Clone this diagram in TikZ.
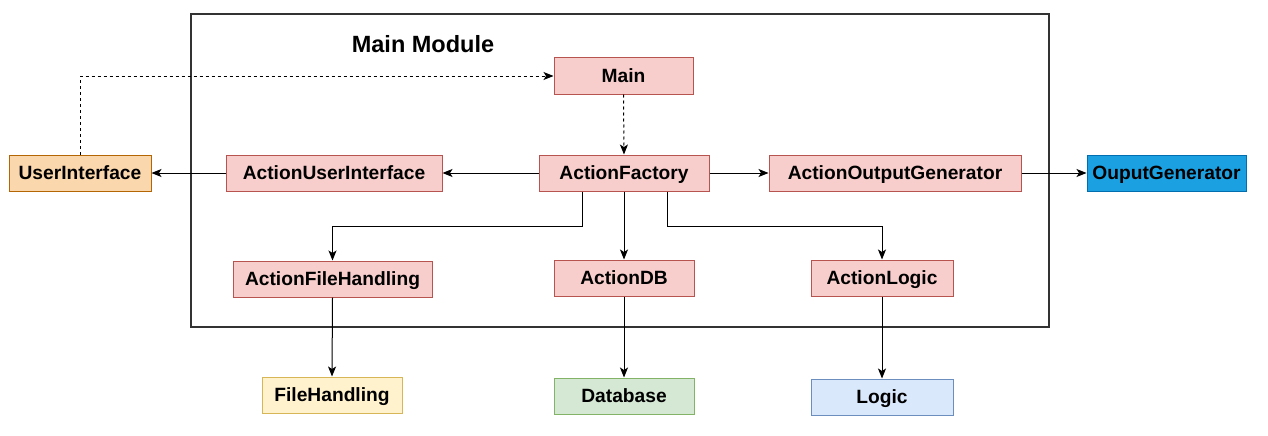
\documentclass[tikz,border=0pt]{standalone}
\usepackage{fontspec}
\setmainfont{Liberation Sans}
\usetikzlibrary{arrows.meta}
\definecolor{redF}{HTML}{F8CECC}\definecolor{redS}{HTML}{B85450}
\definecolor{orF}{HTML}{FAD7AC}\definecolor{orS}{HTML}{B46504}
\definecolor{blF}{HTML}{1BA1E2}\definecolor{blS}{HTML}{006EAF}
\definecolor{yeF}{HTML}{FFF2CC}\definecolor{yeS}{HTML}{D6B656}
\definecolor{grF}{HTML}{D5E8D4}\definecolor{grS}{HTML}{82B366}
\definecolor{lbF}{HTML}{DAE8FC}\definecolor{lbS}{HTML}{6C8EBF}
\definecolor{frameC}{HTML}{333333}
\tikzset{
  box/.style={draw, line width=1pt, inner sep=0pt, minimum height=36pt,
    text height=13.8pt, text depth=0pt,
    font=\fontsize{19.2}{22}\selectfont\bfseries, text=black},
  redbox/.style={box, fill=redF, draw=redS},
  conn/.style={draw=black, line width=1pt, -{Stealth[length=10pt,width=8pt,inset=2.5pt]}},
  dconn/.style={conn, dash pattern=on 3pt off 3pt}
}
\begin{document}
\begin{tikzpicture}[x=1pt,y=-1pt]
\useasboundingbox (0,0) rectangle (1268,436);
\fill[white] (0,0) rectangle (1268,436);
% frame
\node[draw=frameC, line width=1.2pt, minimum width=858pt, minimum height=313pt, inner sep=0pt] (frame) at (620,170.5) {};
\node[font=\fontsize{23.5}{27}\selectfont\bfseries, inner sep=0pt, text height=16.8pt, text depth=0pt] (title) at (423,44) {Main Module};
% nodes
\node[redbox, minimum width=139pt] (main) at (623.5,76) {Main};
\node[box, fill=orF, draw=orS, minimum width=142pt] (ui) at (80,173) {UserInterface};
\node[redbox, minimum width=216pt] (aui) at (334,173) {ActionUserInterface};
\node[redbox, minimum width=170pt] (af) at (624,173) {ActionFactory};
\node[redbox, minimum width=252pt] (aog) at (895,173) {ActionOutputGenerator};
\node[box, fill=blF, draw=blS, minimum width=159pt] (og) at (1166.5,173) {OuputGenerator};
\node[redbox, minimum width=199pt] (afh) at (332.5,279) {ActionFileHandling};
\node[redbox, minimum width=140pt] (adb) at (624,278) {ActionDB};
\node[redbox, minimum width=142pt] (al) at (882,278) {ActionLogic};
\node[box, fill=yeF, draw=yeS, minimum width=140pt] (fh) at (332,395) {FileHandling};
\node[box, fill=grF, draw=grS, minimum width=140pt] (db) at (624,396) {Database};
\node[box, fill=lbF, draw=lbS, minimum width=142pt] (lg) at (882,397) {Logic};
% connectors
\draw[dconn] (ui.north) |- (main.west);
\draw[dconn] (main.south) -- (af.north);
\draw[conn] (af.west) -- (aui.east);
\draw[conn] (aui.west) -- (ui.east);
\draw[conn] (af.east) -- (aog.west);
\draw[conn] (aog.east) -- (og.west);
\coordinate (afl) at ([xshift=-42pt]af.south);
\coordinate (afr) at ([xshift=43pt]af.south);
\coordinate (lane) at (0,226);
\draw[conn] (afl) -- (afl |- lane) -| (afh.north);
\draw[conn] (af.south) -- (adb.north);
\draw[conn] (afr) -- (afr |- lane) -| (al.north);
\draw[conn] (afh.south) -- (fh.north);
\draw[conn] (adb.south) -- (db.north);
\draw[conn] (al.south) -- (lg.north);
\end{tikzpicture}
\end{document}
